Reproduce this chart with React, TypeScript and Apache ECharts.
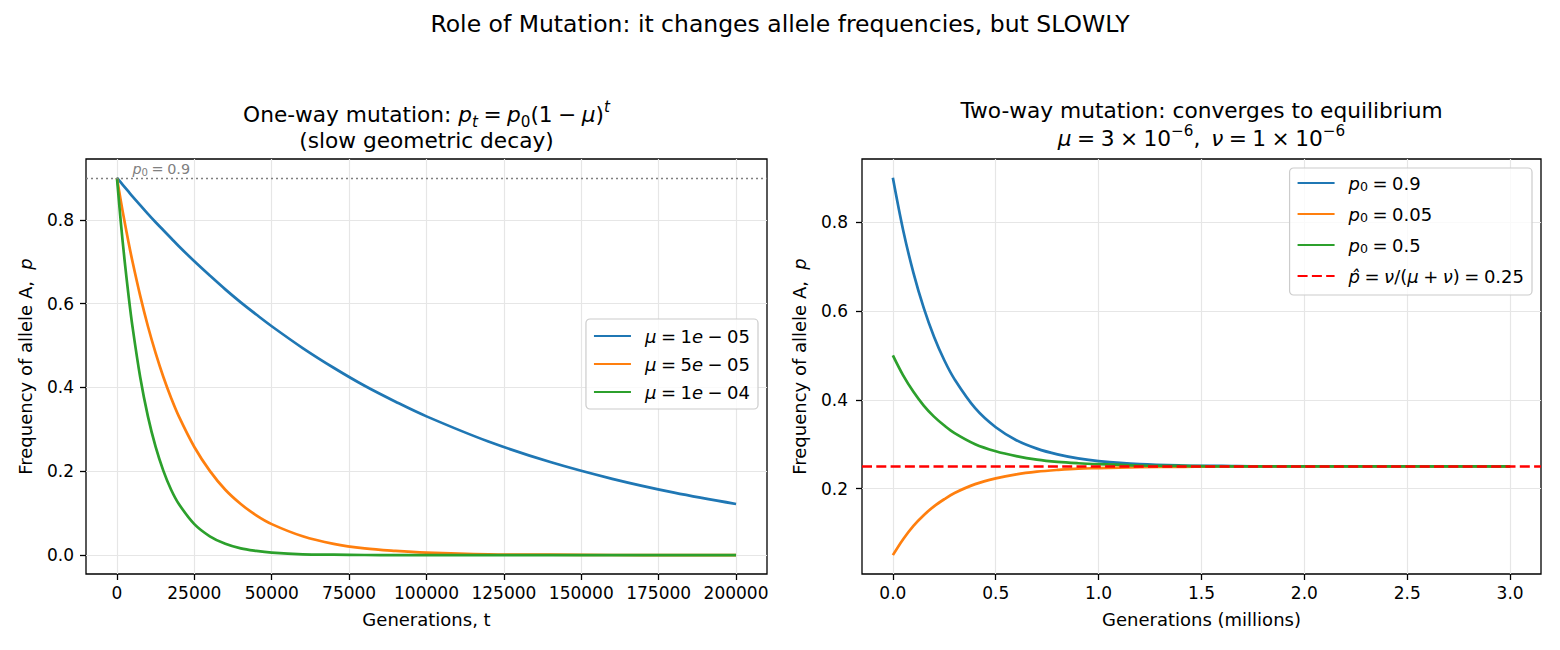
import React, { useEffect, useRef } from "react";
import * as echarts from "echarts";

// ---------- data ----------
const oneWayT = [0, 1250, 2500, 3750, 5000, 7500, 10000, 12500, 15000, 17500, 20000, 25000, 30000, 35000, 40000, 45000, 50000, 60000, 70000, 80000, 90000, 100000, 120000, 140000, 160000, 180000, 200000];
const oneWayMu1e5 = [0.900, 0.889, 0.878, 0.867, 0.856, 0.835, 0.814, 0.794, 0.775, 0.756, 0.737, 0.701, 0.667, 0.634, 0.603, 0.574, 0.546, 0.494, 0.447, 0.404, 0.366, 0.331, 0.271, 0.222, 0.182, 0.149, 0.122];
const oneWayMu5e5 = [0.900, 0.845, 0.794, 0.746, 0.701, 0.619, 0.546, 0.482, 0.425, 0.375, 0.331, 0.258, 0.201, 0.156, 0.122, 0.095, 0.074, 0.045, 0.027, 0.016, 0.010, 0.006, 0.002, 0.001, 0.0003, 0.0001, 0.0];
const oneWayMu1e4 = [0.900, 0.794, 0.701, 0.619, 0.546, 0.425, 0.331, 0.258, 0.201, 0.156, 0.122, 0.074, 0.045, 0.027, 0.016, 0.010, 0.006, 0.002, 0.001, 0.0003, 0.0001, 0.0, 0.0, 0.0, 0.0, 0.0, 0.0];
const oneWayP0 = 0.9;
const oneWayNoteAt = [5000, 0.91];

const twoWayGenM = [0, 0.05, 0.1, 0.15, 0.2, 0.25, 0.3, 0.4, 0.5, 0.6, 0.7, 0.8, 0.9, 1.0, 1.2, 1.4, 1.6, 1.8, 2.0, 2.5, 3.0];
const twoWayP09 = [0.900, 0.782, 0.686, 0.607, 0.542, 0.489, 0.446, 0.381, 0.338, 0.309, 0.290, 0.277, 0.268, 0.262, 0.255, 0.252, 0.251, 0.250, 0.250, 0.250, 0.250];
const twoWayP005 = [0.050, 0.086, 0.116, 0.140, 0.160, 0.176, 0.190, 0.210, 0.223, 0.232, 0.238, 0.242, 0.245, 0.246, 0.248, 0.249, 0.250, 0.250, 0.250, 0.250, 0.250];
const twoWayP05 = [0.500, 0.455, 0.418, 0.387, 0.362, 0.342, 0.325, 0.300, 0.284, 0.273, 0.265, 0.260, 0.257, 0.255, 0.252, 0.251, 0.250, 0.250, 0.250, 0.250, 0.250];
const equilibrium = 0.25;

const leftXTicks = [0, 25000, 50000, 75000, 100000, 125000, 150000, 175000, 200000];
const leftYTicks = [0, 0.2, 0.4, 0.6, 0.8];
const rightXTicks = [0, 0.5, 1.0, 1.5, 2.0, 2.5, 3.0];
const rightYTicks = [0.2, 0.4, 0.6, 0.8];
const leftXRange = [-10000, 210000];
const leftYRange = [-0.045, 0.945];
const rightXRange = [-0.15, 3.15];
const rightYRange = [0.0075, 0.9425];

// ---------- style ----------
const FONT = "'DejaVu Sans', sans-serif";
const BLUE = "#1f77b4";
const ORANGE = "#ff7f0e";
const GREEN = "#2ca02c";
const RED = "#ff0000";
const GRIDC = "#e6e6e6";
const TICK_FS = 17;
const LABEL_FS = 18;
const LEG_FS = 18;
const TITLE_FS = 21.7;
const SUP_FS = 23.5;
const LW = 2.7;
const S = "\u2005"; // math spacing around relations / operators

const pairs = (xs: number[], ys: number[]) => xs.map((x, i) => [x, ys[i]]);

const mathRich = (fs: number, lh: number, color = "#000") => ({
  t: { fontSize: fs, fontFamily: FONT, color, lineHeight: lh },
  i: { fontSize: fs, fontFamily: FONT, color, fontStyle: "italic", lineHeight: lh },
  sub: { fontSize: fs * 0.7, fontFamily: FONT, color, lineHeight: lh * 0.72, verticalAlign: "bottom" },
  subi: { fontSize: fs * 0.7, fontFamily: FONT, color, fontStyle: "italic", lineHeight: lh * 0.72, verticalAlign: "bottom" },
  sup: { fontSize: fs * 0.7, fontFamily: FONT, color, lineHeight: lh * 0.5, verticalAlign: "top" },
  supi: { fontSize: fs * 0.7, fontFamily: FONT, color, fontStyle: "italic", lineHeight: lh * 0.5, verticalAlign: "top" },
  gapi: { fontSize: fs, fontFamily: FONT, color, fontStyle: "italic", lineHeight: lh, padding: [0, 0, 0, 9] },
});

const legendLabels: Record<string, string> = {
  "μ = 1e-05": `{gapi|μ}{t|${S}=${S}1}{i|e}{t|${S}−${S}05}`,
  "μ = 5e-05": `{gapi|μ}{t|${S}=${S}5}{i|e}{t|${S}−${S}05}`,
  "μ = 1e-04": `{gapi|μ}{t|${S}=${S}1}{i|e}{t|${S}−${S}04}`,
  "p0 = 0.9": `{gapi|p}{sub|0}{t|${S}=${S}0.9}`,
  "p0 = 0.05": `{gapi|p}{sub|0}{t|${S}=${S}0.05}`,
  "p0 = 0.5": `{gapi|p}{sub|0}{t|${S}=${S}0.5}`,
  "equilibrium": `{gapiL|p̂}{tL|${S}=${S}}{iL|ν}{tL|/(}{iL|μ}{tL|${S}+${S}}{iL|ν}{tL|)${S}=${S}0.25}`,
};

function axisCommon(ticks: number[], digits: number | null, margin: number) {
  return {
    axisLine: { show: false, onZero: false },
    axisTick: { show: true, inside: false, length: 6, customValues: ticks, lineStyle: { color: "#000", width: 1.3 } },
    axisLabel: {
      customValues: ticks,
      fontSize: TICK_FS,
      fontFamily: FONT,
      color: "#000",
      margin,
      formatter: (v: number) => (digits === null ? String(Math.round(v)) : v.toFixed(digits)),
    },
    splitLine: { show: true, lineStyle: { color: GRIDC, width: 1.2 } },
  };
}

function lineSeries(name: string, data: number[][], color: string, axis: number) {
  return {
    type: "line",
    name,
    data,
    xAxisIndex: axis,
    yAxisIndex: axis,
    symbol: "none",
    showSymbol: false,
    smooth: 0.35,
    lineStyle: { color, width: LW, join: "round" },
    itemStyle: { color },
    z: 3,
  };
}

export default function App() {
  const ref = useRef<HTMLDivElement>(null);
  useEffect(() => {
    if (!ref.current) return;
    const chart = echarts.init(ref.current, null, { renderer: "svg" });
    const nameRich = mathRich(LABEL_FS, 22);
    const legRich: any = {
      ...mathRich(LEG_FS, 20),
      tL: { fontSize: LEG_FS, fontFamily: FONT, color: "#000", lineHeight: 27 },
      iL: { fontSize: LEG_FS, fontFamily: FONT, color: "#000", fontStyle: "italic", lineHeight: 27 },
      gapiL: { fontSize: LEG_FS, fontFamily: FONT, color: "#000", fontStyle: "italic", lineHeight: 27, padding: [0, 0, 0, 9] },
    };
    const titleRich = mathRich(TITLE_FS, 30);
    const noteRich = mathRich(14.4, 18, "#808080");

    const legendCommon = {
      orient: "vertical",
      itemWidth: 37,
      itemHeight: 4,
      backgroundColor: "rgba(255,255,255,0.8)",
      borderColor: "#cccccc",
      borderWidth: 1.2,
      borderRadius: 4,
      itemStyle: { opacity: 0 },
      formatter: (n: string) => legendLabels[n] || n,
      textStyle: { fontSize: LEG_FS, fontFamily: FONT, color: "#000", rich: legRich },
    };

    const option: any = {
      animation: false,
      backgroundColor: "#fff",
      textStyle: { fontFamily: FONT },
      grid: [
        { left: 86, top: 159, width: 681, height: 415, show: true, borderColor: "#000", borderWidth: 1.3, backgroundColor: "transparent", containLabel: false, outerBoundsMode: "none" },
        { left: 862, top: 159, width: 679, height: 415, show: true, borderColor: "#000", borderWidth: 1.3, backgroundColor: "transparent", containLabel: false, outerBoundsMode: "none" },
      ],
      xAxis: [
        {
          type: "value", gridIndex: 0, min: leftXRange[0], max: leftXRange[1],
          ...axisCommon(leftXTicks, null, 10),
          name: "Generations, t", nameLocation: "middle", nameGap: 36,
          nameTextStyle: { fontSize: LABEL_FS, fontFamily: FONT, color: "#000" },
        },
        {
          type: "value", gridIndex: 1, min: rightXRange[0], max: rightXRange[1],
          ...axisCommon(rightXTicks, 1, 10),
          name: "Generations (millions)", nameLocation: "middle", nameGap: 36,
          nameTextStyle: { fontSize: LABEL_FS, fontFamily: FONT, color: "#000" },
        },
      ],
      yAxis: [
        {
          type: "value", gridIndex: 0, min: leftYRange[0], max: leftYRange[1],
          ...axisCommon(leftYTicks, 1, 12),
          name: "{t|Frequency of allele A,  }{i|p}", nameLocation: "middle", nameGap: 50,
          nameTextStyle: { fontSize: LABEL_FS, fontFamily: FONT, color: "#000", rich: nameRich },
        },
        {
          type: "value", gridIndex: 1, min: rightYRange[0], max: rightYRange[1],
          ...axisCommon(rightYTicks, 1, 14),
          name: "{t|Frequency of allele A,  }{i|p}", nameLocation: "middle", nameGap: 52,
          nameTextStyle: { fontSize: LABEL_FS, fontFamily: FONT, color: "#000", rich: nameRich },
        },
      ],
      legend: [
        {
          ...legendCommon,
          data: ["μ = 1e-05", "μ = 5e-05", "μ = 1e-04"],
          right: 802, top: 319,
          itemGap: 10,
          padding: [8, 8, 8, 7],
        },
        {
          ...legendCommon,
          data: ["p0 = 0.9", "p0 = 0.05", "p0 = 0.5", "equilibrium"],
          right: 28, top: 168,
          itemGap: 12,
          padding: [6, 8, 10, 7],
        },
      ],
      series: [
        {
          type: "line", name: "p0line", data: [], xAxisIndex: 0, yAxisIndex: 0, symbol: "none",
          lineStyle: { color: "#808080", width: 1.3, type: [2, 3] },
          markLine: {
            silent: true, symbol: "none", label: { show: false },
            lineStyle: { color: "#808080", width: 1.3, type: [2, 3] },
            data: [{ yAxis: oneWayP0 }],
          },
          markPoint: {
            silent: true, symbol: "circle", symbolSize: 0,
            data: [{ coord: oneWayNoteAt, value: 0 }],
            label: {
              show: true, position: [0, 0], align: "left", verticalAlign: "bottom", offset: [0, 4],
              formatter: `{i|p}{sub|0}{t|${S}=${S}0.9}`, rich: noteRich,
            },
          },
        },
        lineSeries("μ = 1e-05", pairs(oneWayT, oneWayMu1e5), BLUE, 0),
        lineSeries("μ = 5e-05", pairs(oneWayT, oneWayMu5e5), ORANGE, 0),
        lineSeries("μ = 1e-04", pairs(oneWayT, oneWayMu1e4), GREEN, 0),
        lineSeries("p0 = 0.9", pairs(twoWayGenM, twoWayP09), BLUE, 1),
        lineSeries("p0 = 0.05", pairs(twoWayGenM, twoWayP005), ORANGE, 1),
        lineSeries("p0 = 0.5", pairs(twoWayGenM, twoWayP05), GREEN, 1),
        {
          type: "line", name: "equilibrium", data: [], xAxisIndex: 1, yAxisIndex: 1, symbol: "none",
          lineStyle: { color: RED, width: LW, type: [10, 4.3] },
          itemStyle: { color: RED },
          z: 4,
          markLine: {
            silent: true, symbol: "none", label: { show: false },
            lineStyle: { color: RED, width: LW, type: [10, 4.3] },
            data: [{ yAxis: equilibrium }],
            z: 4,
          },
        },
      ],
      graphic: [
        {
          type: "text", x: 780, y: 24,
          style: { text: "Role of Mutation: it changes allele frequencies, but SLOWLY", fontSize: SUP_FS, fontFamily: FONT, fill: "#000", align: "center", verticalAlign: "middle" },
        },
        {
          type: "text", x: 426.5, y: 114,
          style: {
            text: `{t|One-way mutation: }{i|p}{subi|t}{t|${S}=${S}}{i|p}{sub|0}{t|(1${S}−${S}}{i|μ}{t|)}{supi|t}`,
            rich: titleRich, align: "center", verticalAlign: "middle", fontSize: TITLE_FS, fontFamily: FONT, fill: "#000",
          },
        },
        {
          type: "text", x: 426.5, y: 140,
          style: { text: "(slow geometric decay)", fontSize: TITLE_FS, fontFamily: FONT, fill: "#000", align: "center", verticalAlign: "middle" },
        },
        {
          type: "text", x: 1201.5, y: 110,
          style: { text: "Two-way mutation: converges to equilibrium", fontSize: TITLE_FS, fontFamily: FONT, fill: "#000", align: "center", verticalAlign: "middle" },
        },
        {
          type: "text", x: 1201.5, y: 138,
          style: {
            text: `{i|μ}{t|${S}=${S}3${S}×${S}10}{sup|−6}{t|,${S}${S}}{i|ν}{t|${S}=${S}1${S}×${S}10}{sup|−6}`,
            rich: titleRich, align: "center", verticalAlign: "middle", fontSize: TITLE_FS, fontFamily: FONT, fill: "#000",
          },
        },
      ],
    };
    chart.setOption(option);
    return () => chart.dispose();
  }, []);
  return (
    <div
      ref={ref}
      style={{ position: "absolute", left: 0, top: 0, width: 1560, height: 650, background: "#fff" }}
    />
  );
}
